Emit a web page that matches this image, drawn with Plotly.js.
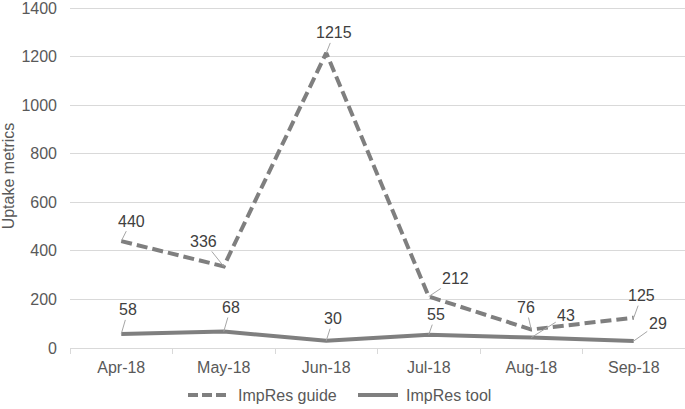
<!DOCTYPE html>
<html><head><meta charset="utf-8">
<script src="https://cdn.plot.ly/plotly-3.0.1.min.js"></script>
<style>body{margin:0;background:#fff}#c{width:685px;height:409px}</style>
</head><body><div id="c"></div>
<script>
const months = ["Apr-18","May-18","Jun-18","Jul-18","Aug-18","Sep-18"];
const guide = [440, 336, 1215, 212, 76, 125];
const tool = [58, 68, 30, 55, 43, 29];
const seriesNames = ["ImpRes guide", "ImpRes tool"];
const yTicks = [0,200,400,600,800,1000,1200,1400];
const guideOff = [[10,-20],[-20,-25],[8,-20],[27,-18],[-5,-22],[8,-22]];
const toolOff = [[7,-24],[7,-24],[7,-22],[7,-20],[35,-22],[24,-17]];

const gray = "#7f7f7f";
const txt = "#404040";
const F = "Liberation Sans, Arial";
const ann = [];
function addAnn(vals, offs){
  vals.forEach((v,i)=>{
    ann.push({x: months[i], y: v, text: String(v), showarrow: true, arrowhead: 0,
      arrowwidth: 1, arrowcolor: "#a6a6a6", ax: offs[i][0], ay: offs[i][1],
      font: {family: F, size: 16, color: txt}, standoff: 0});
  });
}
addAnn(guide, guideOff);
addAnn(tool, toolOff);

// manual legend (pixel layout -> paper coords)
const L = 70, W = 615, B = 348, H = 344;
const px = x => (x - L) / W, py = y => (B - y) / H;
const legY = 395;
const shapes = [
  {type: "line", xref: "paper", yref: "paper", x0: px(188), x1: px(228), y0: py(legY), y1: py(legY),
   line: {color: gray, width: 4, dash: "10px,4px"}},
  {type: "line", xref: "paper", yref: "paper", x0: px(358), x1: px(398), y0: py(legY), y1: py(legY),
   line: {color: gray, width: 4}}
];
ann.push({xref: "paper", yref: "paper", x: px(236), y: py(legY), xanchor: "left", yanchor: "middle",
  text: seriesNames[0], showarrow: false, font: {family: F, size: 16, color: "#595959"}});
ann.push({xref: "paper", yref: "paper", x: px(404), y: py(legY), xanchor: "left", yanchor: "middle",
  text: seriesNames[1], showarrow: false, font: {family: F, size: 16, color: "#595959"}});

const data = [
  {x: months, y: guide, type: "scatter", mode: "lines", name: seriesNames[0],
   line: {color: gray, width: 4, dash: "11px,5px"}},
  {x: months, y: tool, type: "scatter", mode: "lines", name: seriesNames[1],
   line: {color: gray, width: 4}}
];
const layout = {
  width: 685, height: 409,
  margin: {l: 70, r: 0, t: 4, b: 61},
  paper_bgcolor: "#fff", plot_bgcolor: "#fff",
  font: {family: F, size: 16, color: "#595959"},
  xaxis: {type: "category", showgrid: false, ticks: "outside", tickson: "boundaries",
    ticklen: 5, tickcolor: "#d9d9d9", showline: true, linecolor: "#d9d9d9", linewidth: 1,
    tickfont: {size: 16, color: "#595959"}, fixedrange: true, range: [-0.5, 5.5],
    ticklabelstandoff: 5, automargin: false},
  yaxis: {range: [0, 1416.5], tickvals: yTicks,
    showgrid: true, gridcolor: "#d9d9d9", gridwidth: 1, ticklabeloverflow: "allow",
    zeroline: false, showline: false, ticks: "", ticklabelstandoff: 12,
    tickfont: {size: 16, color: "#595959"}, automargin: false,
    title: {text: "Uptake metrics", font: {size: 16, color: "#595959"}, standoff: 10}},
  showlegend: false,
  shapes: shapes,
  annotations: ann
};
Plotly.newPlot("c", data, layout, {displayModeBar: false, staticPlot: true});
</script></body></html>
